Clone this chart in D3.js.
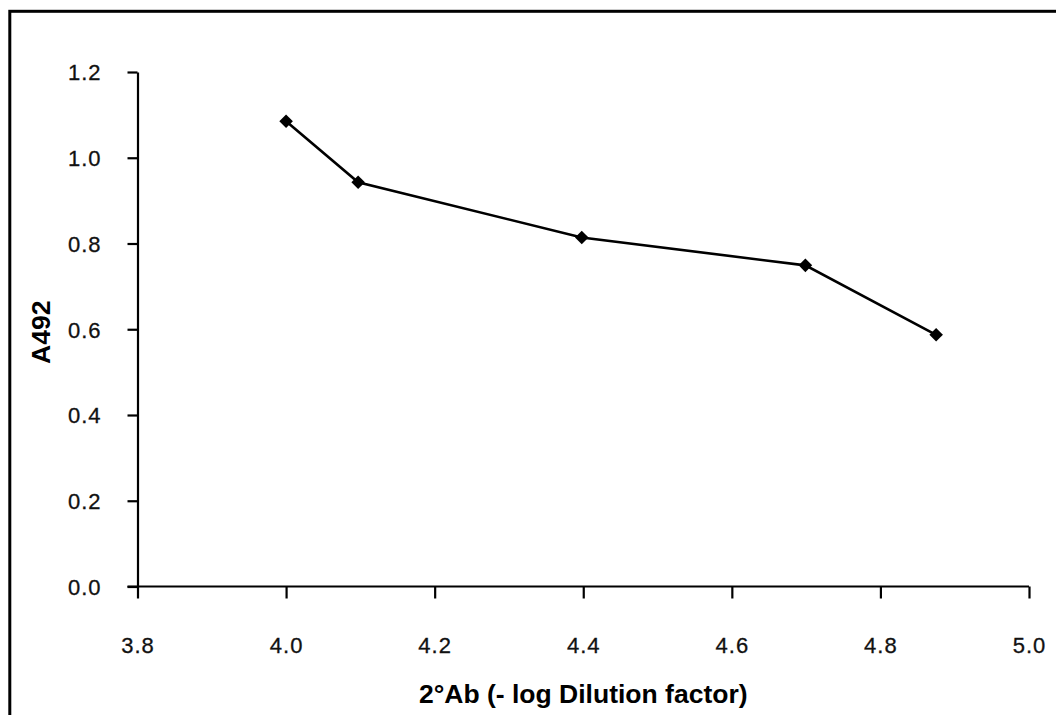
<!DOCTYPE html>
<html>
<head>
<meta charset="utf-8">
<script src="https://cdn.jsdelivr.net/npm/d3@7"></script>
<style>
  html, body { margin: 0; padding: 0; background: #fff; }
  svg { display: block; }
</style>
</head>
<body>
<svg id="chart" width="1056" height="715"></svg>
<script>
const dilution = [4.0, 4.097, 4.398, 4.699, 4.875];
const a492 = [1.085, 0.943, 0.814, 0.749, 0.587];
const xTicks = [3.8, 4.0, 4.2, 4.4, 4.6, 4.8, 5.0];
const yTicks = [0.0, 0.2, 0.4, 0.6, 0.8, 1.0, 1.2];
const xTitle = "2°Ab (- log Dilution factor)";
const yTitle = "A492";

const svg = d3.select("#chart");
const plotL = 137.5, plotR = 1029, plotT = 72, plotB = 586.5;

svg.append("rect").attr("x", 0).attr("y", 0).attr("width", 1056).attr("height", 715).attr("fill", "#fff");
// frame (right/bottom edges lie outside the view)
svg.append("rect").attr("x", 9.8).attr("y", 11.3).attr("width", 1100).attr("height", 800)
  .attr("fill", "none").attr("stroke", "#000").attr("stroke-width", 3);

const x = d3.scaleLinear().domain([3.8, 5.0]).range([plotL, plotR]);
const y = d3.scaleLinear().domain([0, 1.2]).range([plotB, plotT]);

const font = "Arial, 'Liberation Sans', Helvetica, sans-serif";

const xAxis = svg.append("g").attr("transform", `translate(0,${plotB})`)
  .call(d3.axisBottom(x).tickValues(xTicks).tickFormat(d3.format(".1f")).tickSize(12).tickSizeOuter(0).tickPadding(54));
const yAxis = svg.append("g").attr("transform", `translate(${plotL},0)`)
  .call(d3.axisLeft(y).tickValues(yTicks).tickFormat(d3.format(".1f")).tickSize(10).tickSizeOuter(0).tickPadding(26));

[xAxis, yAxis].forEach(g => {
  g.select(".domain").attr("stroke", "#000").attr("stroke-width", 2.2);
  g.selectAll(".tick line").attr("stroke", "#000").attr("stroke-width", 2.2);
  g.selectAll(".tick text").attr("fill", "#111").style("font-family", font)
    .style("font-size", "22px").style("letter-spacing", "1px")
    .attr("stroke", "#111").attr("stroke-width", 0.3);
});
xAxis.selectAll(".tick text").attr("dy", "0");
yAxis.selectAll(".tick text").attr("dy", "0.36em");
xAxis.select(".domain").attr("d", `M${plotL - 10},0H${plotR}`);

const pts = dilution.map((d, i) => [d, a492[i]]);
svg.append("path").datum(pts)
  .attr("fill", "none").attr("stroke", "#000").attr("stroke-width", 2.6)
  .attr("d", d3.line().x(d => x(d[0])).y(d => y(d[1])));

svg.selectAll(".m").data(pts).enter().append("path")
  .attr("class", "m")
  .attr("transform", d => `translate(${x(d[0])},${y(d[1])}) rotate(45)`)
  .attr("d", d3.symbol().type(d3.symbolSquare).size(92))
  .attr("fill", "#000");

svg.append("text").attr("x", (plotL + plotR) / 2).attr("y", 703)
  .attr("text-anchor", "middle").style("font-family", font).style("font-weight", "bold")
  .style("font-size", "26.5px").attr("fill", "#000").text(xTitle);

svg.append("text").attr("transform", `translate(50,${(plotT + plotB) / 2 + 3}) rotate(-90)`)
  .attr("text-anchor", "middle").style("font-family", font).style("font-weight", "bold")
  .style("font-size", "26.5px").attr("fill", "#000").text(yTitle);
</script>
</body>
</html>
